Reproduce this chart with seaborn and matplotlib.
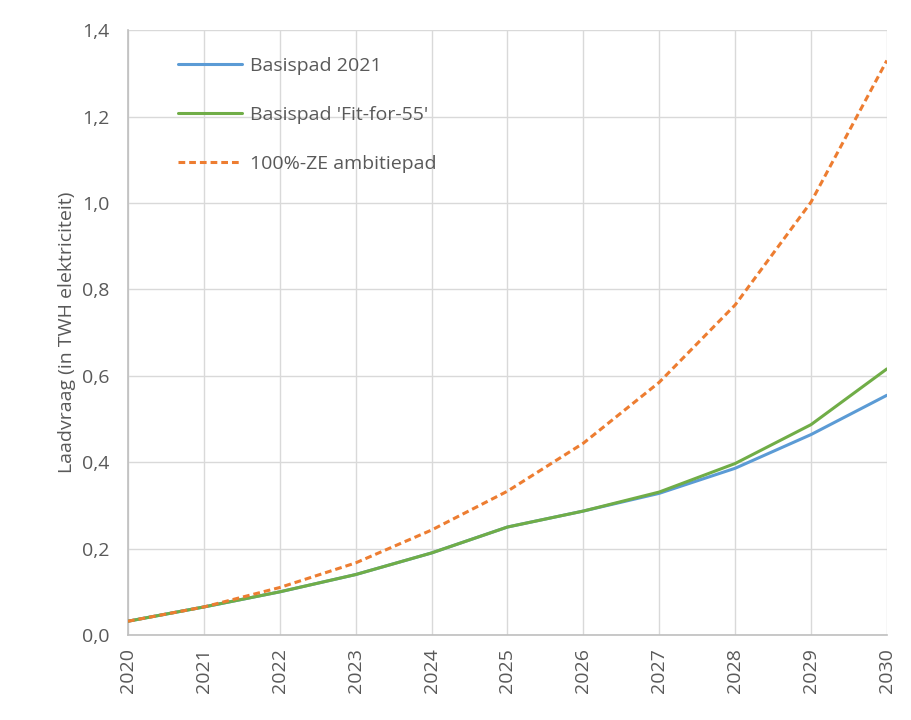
import pandas as pd
import matplotlib.pyplot as plt
import seaborn as sns
from matplotlib.ticker import FuncFormatter

# Data
years = [2020, 2021, 2022, 2023, 2024, 2025, 2026, 2027, 2028, 2029, 2030]
basispad_2021 = [0.032, 0.065, 0.100, 0.140, 0.190, 0.250, 0.287, 0.328, 0.386, 0.464, 0.555]
basispad_fit55 = [0.032, 0.065, 0.100, 0.140, 0.190, 0.250, 0.287, 0.331, 0.397, 0.487, 0.616]
ze_ambitie = [0.032, 0.065, 0.110, 0.167, 0.243, 0.333, 0.444, 0.585, 0.764, 1.002, 1.330]
series_names = ["Basispad 2021", "Basispad 'Fit-for-55'", "100%-ZE ambitiepad"]

df = pd.DataFrame({
    "jaar": years * 3,
    "waarde": basispad_2021 + basispad_fit55 + ze_ambitie,
    "serie": [series_names[0]] * 11 + [series_names[1]] * 11 + [series_names[2]] * 11,
})

sns.set_style("white")
plt.rcParams['font.family'] = ['Open Sans', 'DejaVu Sans']
text_color = "#595959"

fig = plt.figure(figsize=(9.11, 7.2), dpi=100)
ax = fig.add_axes([0.1405, 0.118, 0.833, 0.840])

palette = {series_names[0]: "#5B9BD5", series_names[1]: "#70AD47", series_names[2]: "#ED7D31"}
dashes = {series_names[0]: "", series_names[1]: "", series_names[2]: (2.2, 1.3)}
sns.lineplot(data=df, x="jaar", y="waarde", hue="serie", style="serie",
             palette=palette, dashes=dashes, linewidth=2.2, ax=ax, zorder=3)

ax.set_xlim(2020, 2030)
ax.set_ylim(0, 1.4)
ax.set_xticks(years)
ax.set_xticklabels([str(y) for y in years], rotation=90, color=text_color, fontsize=14)
ax.set_yticks([0, 0.2, 0.4, 0.6, 0.8, 1.0, 1.2, 1.4])
ax.yaxis.set_major_formatter(FuncFormatter(lambda v, p: f"{v:.1f}".replace(".", ",")))
ax.tick_params(axis="y", labelsize=14, labelcolor=text_color, pad=10)
ax.tick_params(axis="x", pad=6)
ax.grid(True, color="#d9d9d9", linewidth=1.0)
ax.set_xlabel("")
ax.set_ylabel("Laadvraag (in TWH elektriciteit)", fontsize=14, color=text_color, labelpad=4)

for s in ["top", "right"]:
    ax.spines[s].set_visible(False)
for s in ["left", "bottom"]:
    ax.spines[s].set_color("#bfbfbf")
    ax.spines[s].set_linewidth(1.2)

leg = ax.legend(loc="upper left", bbox_to_anchor=(0.043, 0.985), frameon=False,
                fontsize=14, labelspacing=1.6, handlelength=3.3, handletextpad=0.4)
for t in leg.get_texts():
    t.set_color(text_color)

fig.savefig("out.png", dpi=100, facecolor="white")
